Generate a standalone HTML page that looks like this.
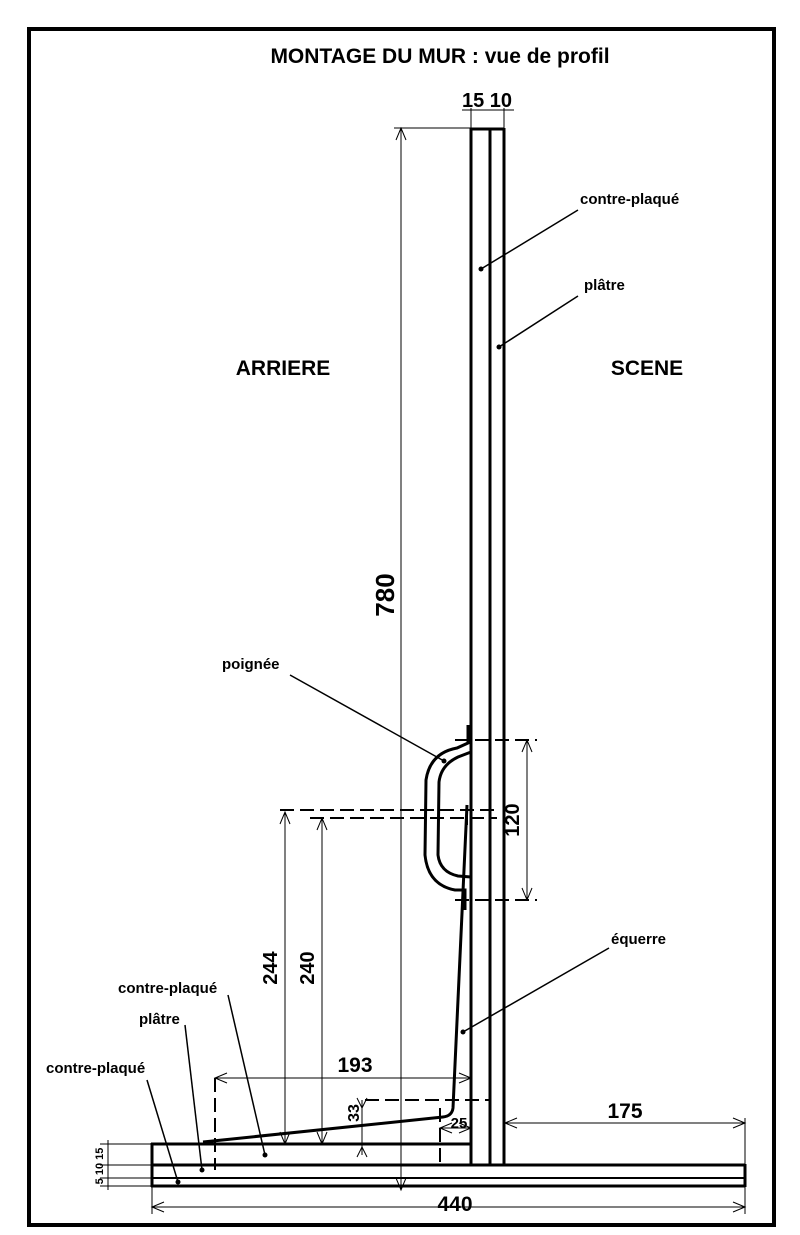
<!DOCTYPE html>
<html><head><style>body{margin:0;background:#fff}svg{display:block}</style></head><body>
<svg width="800" height="1235" viewBox="0 0 800 1235" xmlns="http://www.w3.org/2000/svg" font-family="Liberation Sans, sans-serif" font-weight="bold">
<rect x="29" y="29" width="745" height="1196" fill="none" stroke="#000" stroke-width="4"/>
<text x="440" y="63" font-size="21" text-anchor="middle">MONTAGE DU MUR : vue de profil</text>
<text x="283" y="375" font-size="21" text-anchor="middle">ARRIERE</text>
<text x="647" y="375" font-size="21" text-anchor="middle">SCENE</text>
<g stroke="#000" fill="none">
<line x1="471" y1="128" x2="471" y2="1165" stroke-width="3"/>
<line x1="490" y1="128" x2="490" y2="1165" stroke-width="3"/>
<line x1="504" y1="128" x2="504" y2="1165" stroke-width="3"/>
<line x1="471" y1="129" x2="504" y2="129" stroke-width="3"/>
<line x1="151" y1="1144" x2="472" y2="1144" stroke-width="3"/>
<line x1="151" y1="1165" x2="745" y2="1165" stroke-width="3"/>
<line x1="151" y1="1178" x2="745" y2="1178" stroke-width="2"/>
<line x1="151" y1="1186" x2="745" y2="1186" stroke-width="3"/>
<line x1="152" y1="1143" x2="152" y2="1187" stroke-width="3"/>
<line x1="745" y1="1164" x2="745" y2="1187" stroke-width="3"/>
<g stroke-width="1">
<line x1="394" y1="128" x2="471" y2="128"/>
<line x1="401" y1="128" x2="401" y2="1190"/>
<line x1="152" y1="1187" x2="152" y2="1214"/>
<line x1="745" y1="1118" x2="745" y2="1214"/>
<line x1="152" y1="1207" x2="745" y2="1207"/>
<line x1="505" y1="1123" x2="745" y2="1123"/>
<line x1="215" y1="1078" x2="471" y2="1078"/>
<line x1="440" y1="1128" x2="471" y2="1128"/>
<line x1="362" y1="1100" x2="362" y2="1155"/>
<line x1="285" y1="812" x2="285" y2="1144"/>
<line x1="322" y1="818" x2="322" y2="1144"/>
<line x1="527" y1="740" x2="527" y2="900"/>
<line x1="471" y1="108" x2="471" y2="128"/><line x1="504" y1="108" x2="504" y2="128"/>
<line x1="462" y1="110" x2="514" y2="110"/>
<line x1="100" y1="1144" x2="151" y2="1144"/>
<line x1="100" y1="1165" x2="151" y2="1165"/>
<line x1="100" y1="1178" x2="151" y2="1178"/>
<line x1="100" y1="1186" x2="151" y2="1186"/>
<line x1="108" y1="1140" x2="108" y2="1190"/>
<path d="M396 140 L401 128 L406 140 M396 1178 L401 1190 L406 1178"/>
<path d="M164 1202 L152 1207 L164 1212 M733 1202 L745 1207 L733 1212"/>
<path d="M517 1118 L505 1123 L517 1128 M733 1118 L745 1123 L733 1128"/>
<path d="M227 1073 L215 1078 L227 1083 M459 1073 L471 1078 L459 1083"/>
<path d="M452 1123 L440 1128 L452 1133 M459 1123 L471 1128 L459 1133"/>
<path d="M357 1098 L362 1108 L367 1098 M357 1157 L362 1147 L367 1157"/>
<path d="M280 824 L285 812 L290 824 M280 1132 L285 1144 L290 1132"/>
<path d="M317 830 L322 818 L327 830 M317 1132 L322 1144 L327 1132"/>
<path d="M522 752 L527 740 L532 752 M522 888 L527 900 L532 888"/>
</g>
<g stroke-width="2" stroke-dasharray="14,6">
<line x1="455" y1="740" x2="537" y2="740"/>
<line x1="455" y1="900" x2="537" y2="900"/>
<line x1="280" y1="810" x2="497" y2="810"/>
<line x1="310" y1="818" x2="497" y2="818"/>
<line x1="365" y1="1100" x2="490" y2="1100"/>
<line x1="215" y1="1078" x2="215" y2="1170"/>
<line x1="440" y1="1108" x2="440" y2="1165"/>
</g>
<path d="M203 1142 L443 1117 Q452 1116 453 1108 L467 805" stroke-width="3"/>
<path d="M468 725 L468 743 L457 748 Q430 753 426 780 L425 855 Q428 885 455 890 L465 890 L465 910" stroke-width="3"/>
<path d="M471 752 L458 757 Q441 765 439 782 L438 855 Q440 872 458 876 L471 877" stroke-width="3"/>
<path d="M467 805 L467 825" stroke-width="2"/>
<g stroke-width="1.5">
<line x1="481" y1="269" x2="578" y2="210"/>
<line x1="499" y1="347" x2="578" y2="296"/>
<line x1="290" y1="675" x2="444" y2="761"/>
<line x1="463" y1="1032" x2="609" y2="948"/>
<line x1="228" y1="995" x2="265" y2="1155"/>
<line x1="185" y1="1025" x2="202" y2="1170"/>
<line x1="147" y1="1080" x2="178" y2="1182"/>
</g>
</g>
<g fill="#000">
<circle cx="481" cy="269" r="2.5"/><circle cx="499" cy="347" r="2.5"/><circle cx="444" cy="761" r="2.5"/>
<circle cx="463" cy="1032" r="2.5"/><circle cx="265" cy="1155" r="2.5"/><circle cx="202" cy="1170" r="2.5"/><circle cx="178" cy="1182" r="2.5"/>
</g>
<g font-size="15">
<text x="580" y="204">contre-plaqué</text>
<text x="584" y="290">plâtre</text>
<text x="222" y="669">poignée</text>
<text x="611" y="944">équerre</text>
<text x="118" y="993">contre-plaqué</text>
<text x="139" y="1024">plâtre</text>
<text x="46" y="1073">contre-plaqué</text>
</g>
<text x="487" y="107" font-size="20" text-anchor="middle">15 10</text>
<text x="455" y="1211" font-size="21" text-anchor="middle">440</text>
<text x="625" y="1118" font-size="21" text-anchor="middle">175</text>
<text x="355" y="1072" font-size="21" text-anchor="middle">193</text>
<text x="459" y="1128" font-size="15" text-anchor="middle">25</text>
<text transform="translate(359 1113) rotate(-90)" font-size="16" text-anchor="middle">33</text>
<text transform="translate(277 968) rotate(-90)" font-size="20" text-anchor="middle">244</text>
<text transform="translate(314 968) rotate(-90)" font-size="20" text-anchor="middle">240</text>
<text transform="translate(519 820) rotate(-90)" font-size="20" text-anchor="middle">120</text>
<text transform="translate(394 595) rotate(-90)" font-size="26" text-anchor="middle">780</text>
<text transform="translate(103 1166) rotate(-90)" font-size="11" text-anchor="middle">5 10 15</text>
</svg>
</body></html>
